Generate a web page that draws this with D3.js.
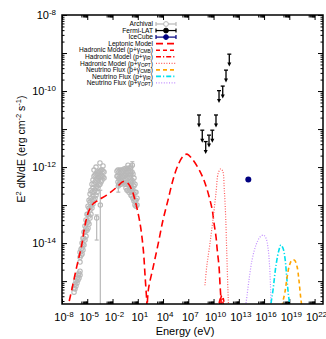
<!DOCTYPE html>
<html>
<head>
<meta charset="utf-8">
<script src="https://cdn.jsdelivr.net/npm/d3@7"></script>
<style>
  body { margin: 0; background: #fff; }
  svg { display: block; }
  text { font-family: "Liberation Sans", Arial, Helvetica, sans-serif; fill: #000; }
</style>
</head>
<body>
<svg id="chart" width="326" height="339"></svg>
<script>
// ---- Spectral energy distribution: all values are log10(E / eV) and log10(E^2 dN/dE / erg cm^-2 s^-1)

// Axis ticks (exponents)
const xMajorExp = [-8, -5, -2, 1, 4, 7, 10, 13, 16, 19, 22];
const yLabelExp = [-8, -10, -12, -14];

// Archival multiwavelength points (open grey circles)
const archivalLogE = [
  -6.57,-6.57,-6.46,-6.46,-6.34,-6.34,-6.22,-6.22,-6.10,-6.10,-5.98,-5.98,-5.86,-5.86,
  -5.86,-5.86,-5.86,-5.74,-5.74,-5.62,-5.62,-5.62,-5.51,-5.51,-5.51,-5.39,-5.39,-5.39,-5.27,-5.27,-5.27,-5.15,-5.15,-5.15,-5.03,-5.03,-5.03,
  -4.91,-4.91,-4.91,-4.91,-4.79,-4.79,-4.79,-4.79,-4.67,-4.67,-4.67,-4.67,-4.56,-4.56,-4.56,-4.56,-4.44,-4.44,-4.44,-4.44,
  -4.32,-4.32,-4.32,-4.32,-4.20,-4.20,-4.20,-4.20,-4.08,-4.08,-4.08,-4.08,-3.96,-3.96,-3.96,-3.96,-3.84,-3.84,-3.84,-3.84,
  -3.72,-3.72,-3.72,-3.61,-3.61,-3.61,-3.49,-3.49,-3.49,-3.37,-3.37,-3.37,-3.25,-3.25,-3.25,-3.13,-3.13,-3.01,-3.01,
  -4.20,-3.96,-3.49,-3.13,
  -1.47,-1.47,-1.35,-1.35,-1.35,-1.23,-1.23,-1.23,-1.11,-1.11,-1.11,-0.99,-0.99,-0.99,-0.87,-0.87,-0.87,-0.76,-0.76,-0.76,
  -0.64,-0.64,-0.64,-0.52,-0.52,-0.52,-0.40,-0.40,-0.40,-0.40,-0.28,-0.28,-0.28,-0.28,-0.16,-0.16,-0.16,-0.16,-0.16,
  -0.04,-0.04,-0.04,-0.04,0.08,0.08,0.08,0.08,0.19,0.19,0.19,0.19,0.19,0.31,0.31,0.31,0.31,0.43,0.43,0.43,0.43,
  0.55,0.55,0.55,0.55,0.67,0.67,0.67,0.67,0.79,0.79,0.79,0.91,0.91
];
const archivalLogF = [
  -15.18,-15.29,-15.08,-15.21,-15.00,-15.13,-14.92,-15.05,-14.84,-14.97,-14.79,-14.92,-14.74,-14.84,
  -14.24,-14.37,-14.50,-14.16,-14.32,-14.00,-14.13,-14.29,-13.87,-14.03,-14.18,-13.71,-13.87,-14.05,-13.55,-13.71,-13.92,-13.39,-13.61,-13.82,-13.24,-13.45,-13.66,
  -13.03,-13.24,-13.45,-13.61,-12.87,-13.08,-13.29,-13.50,-12.71,-12.92,-13.13,-13.34,-12.61,-12.82,-13.03,-13.24,-12.45,-12.66,-12.87,-13.08,
  -12.34,-12.55,-12.76,-12.97,-12.24,-12.45,-12.66,-12.87,-12.21,-12.39,-12.61,-12.82,-12.18,-12.34,-12.55,-12.74,-12.13,-12.29,-12.50,-12.66,
  -12.18,-12.34,-12.55,-12.13,-12.29,-12.47,-12.11,-12.26,-12.45,-12.08,-12.24,-12.39,-12.08,-12.24,-12.34,-12.11,-12.26,-12.13,-12.29,
  -12.08,-12.00,-11.89,-11.97,
  -12.11,-12.24,-12.08,-12.24,-12.39,-12.13,-12.29,-12.45,-12.08,-12.24,-12.39,-12.13,-12.29,-12.45,-12.08,-12.24,-12.39,-12.11,-12.26,-12.42,
  -12.05,-12.21,-12.39,-12.08,-12.24,-12.45,-12.03,-12.21,-12.39,-12.55,-12.08,-12.26,-12.45,-12.61,-12.03,-12.21,-12.39,-12.61,-11.95,
  -12.08,-12.26,-12.47,-12.66,-12.03,-12.21,-12.39,-12.61,-12.00,-12.18,-12.37,-12.55,-12.74,-12.13,-12.34,-12.55,-12.76,-12.18,-12.39,-12.61,-12.82,
  -12.29,-12.50,-12.71,-12.89,-12.45,-12.66,-12.87,-13.00,-12.66,-12.87,-13.03,-12.82,-13.00
];
// Archival points carrying visible error bars
const archivalBarLogE = [-3.88, -3.45, -1.31, 0.35];
const archivalBarLogF = [-13.34, -13.00, -12.50, -11.95];
const archivalBarLo   = [-13.92, -17.00, -12.66, -12.52];
const archivalBarHi   = [-13.26, -12.61, -12.34, -11.86];

// Fermi-LAT upper limits
const fermiLogE = [8.27, 8.66, 9.07, 9.46, 9.85, 10.29, 10.65, 11.09, 11.48, 11.87];
const fermiLogF = [-10.63, -11.03, -11.33, -11.16, -11.03, -10.63, -9.99, -9.87, -9.45, -9.03];

// IceCube neutrino point
const iceCubeLogE = [14.13];
const iceCubeLogF = [-12.33];

// Leptonic model: synchrotron and inverse-Compton components
const lepSynLogE = [-7.45, -7.25, -6.85, -6.25, -5.66, -5.27, -4.85, -4.32, -3.69, -2.69, -1.50, -0.72, -0.16, 0.31, 0.67, 1.26, 1.66, 1.86, 2.06, 2.15];
const lepSynLogF = [-16.1, -15.66, -15.24, -14.62, -14.05, -13.53, -13.18, -12.97, -12.87, -12.74, -12.53, -12.38, -12.43, -12.61, -12.87, -13.47, -14.18, -14.84, -15.50, -15.85];
const lepIcLogE = [2.10, 2.25, 2.84, 3.44, 4.00, 4.59, 5.18, 5.78, 6.37, 6.85, 7.40, 8.19, 8.78, 9.19, 9.58, 9.85, 10.05, 10.29, 10.44, 10.65, 10.76, 10.88, 10.94];
const lepIcLogF = [-15.85, -15.24, -14.62, -14.00, -13.39, -12.87, -12.34, -11.95, -11.72, -11.66, -11.77, -12.03, -12.30, -12.56, -12.87, -13.13, -13.47, -13.83, -14.18, -14.62, -15.05, -15.50, -15.76];

// Hadronic models
const hadCmbLogE = [10.65, 10.82, 11.00, 11.18, 11.35];
const hadCmbLogF = [-15.85, -15.48, -15.38, -15.48, -15.85];
const hadIrLogE = [10.55, 10.72, 10.90, 11.08, 11.25];
const hadIrLogF = [-15.85, -15.52, -15.44, -15.52, -15.85];
const hadOptLogE = [8.98, 9.19, 9.58, 9.97, 10.29, 10.56, 10.85, 11.08, 11.28, 11.44, 11.56, 11.68, 11.75, 11.80];
const hadOptLogF = [-15.11, -14.62, -14.00, -13.31, -12.68, -12.16, -12.05, -12.10, -12.61, -13.31, -14.18, -15.05, -15.50, -15.80];

// Neutrino fluxes
const nuCmbLogE = [18.10, 18.19, 18.48, 18.72, 19.02, 19.32, 19.61, 19.91, 20.14, 20.32, 20.44, 20.50];
const nuCmbLogF = [-15.85, -15.60, -15.29, -14.92, -14.58, -14.45, -14.45, -14.61, -14.97, -15.37, -15.60, -15.85];
const nuIrLogE = [16.75, 16.82, 17.06, 17.42, 17.77, 18.00, 18.24, 18.48, 18.72, 18.90, 19.02, 19.08];
const nuIrLogF = [-15.85, -15.60, -15.24, -14.58, -14.18, -14.05, -14.13, -14.39, -14.97, -15.37, -15.60, -15.85];
const nuOptLogE = [13.78, 13.85, 13.97, 14.21, 14.57, 15.04, 15.52, 15.93, 16.23, 16.47, 16.65, 16.76, 16.82, 16.87];
const nuOptLogF = [-15.85, -15.60, -15.39, -14.97, -14.45, -14.05, -13.84, -13.79, -13.87, -14.13, -14.58, -15.11, -15.60, -15.85];

// Legend entries
const legendNames = ["Archival", "Fermi-LAT", "IceCube", "Leptonic Model",
  "Hadronic Model (p+\u03b3", "Hadronic Model (p+\u03b3", "Hadronic Model (p+\u03b3",
  "Neutrino Flux (p+\u03b3", "Neutrino Flux (p+\u03b3", "Neutrino Flux (p+\u03b3"];
const legendSubs = ["", "", "", "", "CMB", "IR", "OPT", "CMB", "IR", "OPT"];

// ---- drawing
const svg = d3.select("#chart");
const M = { l: 62, r: 323, t: 15, b: 304 };
const x = d3.scaleLog().domain([1e-8, 1e23]).range([M.l, M.r]);
const y = d3.scaleLog().domain([2.5e-16, 1e-8]).range([M.b, M.t]);
const P = v => Math.pow(10, v);

svg.append("defs").append("clipPath").attr("id", "plotArea")
  .append("rect").attr("x", M.l).attr("y", M.t).attr("width", M.r - M.l).attr("height", M.b - M.t);

const GREY = "#b8b8b8";
const styles = {
  lep:    { color: "#ff0000", dash: "7,4",       width: 1.6 },
  hadCmb: { color: "#ff0000", dash: "4,3",       width: 1.6 },
  hadIr:  { color: "#ff0000", dash: "5,2,1.2,2", width: 1.6 },
  hadOpt: { color: "#ff5a5a", dash: "1,1.6",     width: 1.2 },
  nuCmb:  { color: "#ffa500", dash: "4,3",       width: 1.6 },
  nuIr:   { color: "#00e0ee", dash: "5,2,1.2,2", width: 1.6 },
  nuOpt:  { color: "#c08cff", dash: "1,1.6",     width: 1.2 }
};

// ---- axes: inward ticks on all four sides
const xMajor = xMajorExp.map(P);
const xMinor = [];
xMajorExp.slice(1).forEach(e => { for (let k = 2; k <= 9; k++) xMinor.push(k * P(e - 1)); });
const yMajor = d3.range(-15, -7).map(P);
const yMinor = [];
for (let d = -16; d <= -9; d++) for (let k = 2; k <= 9; k++) {
  const v = k * P(d);
  if (v >= 2.5e-16 && v <= 1e-8) yMinor.push(v);
}

function addAxis(gen, tr, values, size) {
  const g = svg.append("g").attr("transform", tr)
    .call(gen.tickValues(values).tickSizeInner(-size).tickSizeOuter(0).tickFormat(() => ""));
  g.select(".domain").remove();
  g.selectAll(".tick line").attr("stroke", "#000").attr("stroke-width", 1);
}
addAxis(d3.axisBottom(x), `translate(0,${M.b})`, xMajor, 5);
addAxis(d3.axisBottom(x), `translate(0,${M.b})`, xMinor, 2.5);
addAxis(d3.axisTop(x), `translate(0,${M.t})`, xMajor, 5);
addAxis(d3.axisTop(x), `translate(0,${M.t})`, xMinor, 2.5);
addAxis(d3.axisLeft(y), `translate(${M.l},0)`, yMajor, 5);
addAxis(d3.axisLeft(y), `translate(${M.l},0)`, yMinor, 2.5);
addAxis(d3.axisRight(y), `translate(${M.r},0)`, yMajor, 5);
addAxis(d3.axisRight(y), `translate(${M.r},0)`, yMinor, 2.5);

// tick labels as 10 with superscript exponent
function powerLabel(sel, e) {
  sel.append("tspan").text("10");
  sel.append("tspan").attr("dy", -4.5).attr("font-size", 8).text(String(e));
}
xMajorExp.forEach(e => {
  const t = svg.append("text").attr("x", x(P(e)) + 2).attr("y", 321)
    .attr("text-anchor", "middle").attr("font-size", 11);
  powerLabel(t, e);
});
yLabelExp.forEach(e => {
  const t = svg.append("text").attr("x", 56).attr("y", y(P(e)) + 4)
    .attr("text-anchor", "end").attr("font-size", 11);
  powerLabel(t, e);
});

// axis titles
svg.append("text").attr("x", 185).attr("y", 335).attr("text-anchor", "middle")
  .attr("font-size", 11).text("Energy (eV)");
const yt = svg.append("text").attr("transform", "translate(25,149) rotate(-90)")
  .attr("text-anchor", "middle").attr("font-size", 10.5);
yt.append("tspan").text("E");
yt.append("tspan").attr("dy", -4).attr("font-size", 7.5).text("2");
yt.append("tspan").attr("dy", 4).text(" dN/dE (erg cm");
yt.append("tspan").attr("dy", -4).attr("font-size", 7.5).text("-2");
yt.append("tspan").attr("dy", 4).text(" s");
yt.append("tspan").attr("dy", -4).attr("font-size", 7.5).text("-1");
yt.append("tspan").attr("dy", 4).text(")");

// ---- plot content
const plot = svg.append("g").attr("clip-path", "url(#plotArea)");
const line = d3.line().x(d => x(P(d[0]))).y(d => y(P(d[1]))).curve(d3.curveCatmullRom.alpha(0.5));
function model(logE, logF, st) {
  plot.append("path").datum(d3.zip(logE, logF)).attr("d", line)
    .attr("fill", "none").attr("stroke", st.color).attr("stroke-width", st.width)
    .attr("stroke-dasharray", st.dash);
}

// archival error bars and points
const bars = d3.zip(archivalBarLogE, archivalBarLogF, archivalBarLo, archivalBarHi);
plot.selectAll(".abar").data(bars).join("g").each(function (d) {
  const g = d3.select(this), cx = x(P(d[0]));
  const y1 = y(P(Math.max(d[2], -16.5))), y2 = y(P(d[3]));
  g.append("line").attr("x1", cx).attr("x2", cx).attr("y1", y1).attr("y2", y2)
    .attr("stroke", GREY).attr("stroke-width", 1.2);
  [y1, y2].forEach(yy => g.append("line").attr("x1", cx - 2).attr("x2", cx + 2)
    .attr("y1", yy).attr("y2", yy).attr("stroke", GREY).attr("stroke-width", 1.2));
});
plot.selectAll(".arch").data(d3.zip(archivalLogE.concat(archivalBarLogE), archivalLogF.concat(archivalBarLogF)))
  .join("circle")
  .attr("cx", d => x(P(d[0]))).attr("cy", d => y(P(d[1]))).attr("r", 2.2)
  .attr("fill", "none").attr("stroke", GREY).attr("stroke-width", 1.1);

// models
model(lepSynLogE, lepSynLogF, styles.lep);
model(lepIcLogE, lepIcLogF, styles.lep);
model(hadOptLogE, hadOptLogF, styles.hadOpt);
model(hadCmbLogE, hadCmbLogF, styles.hadCmb);
model(hadIrLogE, hadIrLogF, styles.hadIr);
model(nuOptLogE, nuOptLogF, styles.nuOpt);
model(nuIrLogE, nuIrLogF, styles.nuIr);
model(nuCmbLogE, nuCmbLogF, styles.nuCmb);

// Fermi-LAT upper limits: cap at the limit, arrow down to half of it
d3.zip(fermiLogE, fermiLogF).forEach(d => {
  const cx = x(P(d[0])), y0 = y(P(d[1])), y1 = y(P(d[1]) / 2);
  plot.append("line").attr("x1", cx - 2).attr("x2", cx + 2).attr("y1", y0).attr("y2", y0)
    .attr("stroke", "#000").attr("stroke-width", 1.3);
  plot.append("line").attr("x1", cx).attr("x2", cx).attr("y1", y0).attr("y2", y1 - 2)
    .attr("stroke", "#000").attr("stroke-width", 1.3);
  plot.append("path").attr("d", `M${cx - 2},${y1 - 3}L${cx + 2},${y1 - 3}L${cx},${y1 + 1}Z`)
    .attr("fill", "#000");
});

// IceCube
plot.selectAll(".ic").data(d3.zip(iceCubeLogE, iceCubeLogF)).join("circle")
  .attr("cx", d => x(P(d[0]))).attr("cy", d => y(P(d[1]))).attr("r", 3)
  .attr("fill", "#000080");

// frame
svg.append("rect").attr("x", M.l).attr("y", M.t).attr("width", M.r - M.l).attr("height", M.b - M.t)
  .attr("fill", "none").attr("stroke", "#000").attr("stroke-width", 1.5);

// ---- legend
const legendStyles = [null, null, null, styles.lep, styles.hadCmb, styles.hadIr, styles.hadOpt, styles.nuCmb, styles.nuIr, styles.nuOpt];
const legendColors = [GREY, "#000", "#000080"];
const lg = svg.append("g");
legendNames.forEach((name, i) => {
  const ly = 24 + i * 6.55;
  const t = lg.append("text").attr("x", 153).attr("y", ly + 2.2).attr("text-anchor", "end")
    .attr("font-size", 6.6).attr("fill", "#222");
  t.append("tspan").text(name);
  if (legendSubs[i]) {
    t.append("tspan").attr("dy", 1).attr("font-size", 4.8).text(legendSubs[i]);
    t.append("tspan").attr("dy", -1).text(")");
  }
  const st = legendStyles[i];
  if (st) {
    lg.append("line").attr("x1", 156).attr("x2", 176).attr("y1", ly).attr("y2", ly)
      .attr("stroke", st.color).attr("stroke-width", st.width).attr("stroke-dasharray", st.dash);
  } else {
    const c = legendColors[i];
    lg.append("line").attr("x1", 156).attr("x2", 176).attr("y1", ly).attr("y2", ly)
      .attr("stroke", c).attr("stroke-width", 1.2);
    [156, 176].forEach(xx => lg.append("line").attr("x1", xx).attr("x2", xx)
      .attr("y1", ly - 2).attr("y2", ly + 2).attr("stroke", c).attr("stroke-width", 1.2));
    lg.append("circle").attr("cx", 166).attr("cy", ly).attr("r", 2.4)
      .attr("fill", i === 0 ? "#fff" : c).attr("stroke", c).attr("stroke-width", 1);
  }
});
</script>
</body>
</html>
